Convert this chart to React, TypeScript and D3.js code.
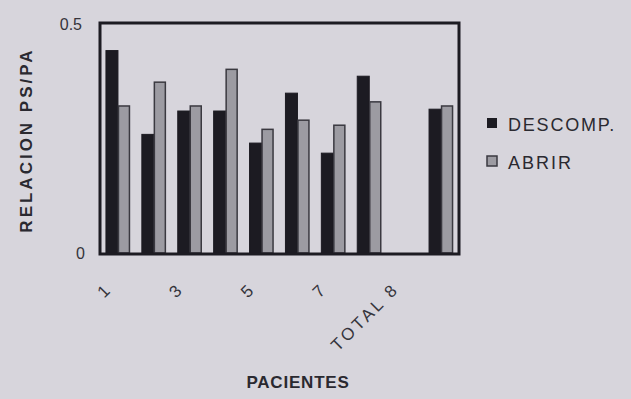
import React from "react";
import * as d3 from "d3";

const categories = ["1", "2", "3", "4", "5", "6", "7", "8", "9", "TOTAL"];
const descomp = [0.442, 0.259, 0.31, 0.31, 0.24, 0.349, 0.218, 0.386, null, 0.314];
const abrir = [0.321, 0.373, 0.321, 0.401, 0.27, 0.29, 0.279, 0.33, null, 0.321];
const tickCategories = ["1", "3", "5", "7", "9"];
const tickLabels = ["1", "3", "5", "7", "TOTAL 8"];
const yTicks = [0, 0.5];
const yTickLabels = ["0", "0.5"];
const seriesNames = ["DESCOMP.", "ABRIR"];

const W = 631;
const H = 399;
const frame = { left: 100, top: 23, right: 459, bottom: 254 };
const font = "'Liberation Sans', Arial, sans-serif";
const bg = "#d7d5dc";
const ink = "#1c1b22";
const textInk = "#35343b";
const grayFill = "#9c9ba2";

export default function App() {
  const x = d3
    .scaleBand<string>()
    .domain(categories)
    .range([frame.left, frame.right])
    .paddingInner(0)
    .paddingOuter(0);
  const y = d3.scaleLinear().domain([0, 0.5]).range([frame.bottom - 1, frame.top + 1]);
  const barW = 12;

  const bars: React.ReactNode[] = [];
  categories.forEach((c, i) => {
    const cx = (x(c) as number) + x.bandwidth() / 2;
    const d = descomp[i];
    const a = abrir[i];
    if (d != null) {
      bars.push(
        <rect key={"d" + i} x={cx - barW} y={y(d)} width={barW} height={y(0) - y(d)} fill={ink} stroke={ink} strokeWidth={1} />
      );
    }
    if (a != null) {
      bars.push(
        <rect key={"a" + i} x={cx + 0.5} y={y(a)} width={barW - 1} height={y(0) - y(a)} fill={grayFill} stroke="#3a3940" strokeWidth={1.5} />
      );
    }
  });

  return (
    <svg
      width={W}
      height={H}
      style={{ position: "absolute", left: 0, top: 0, display: "block", background: bg }}
    >
      <rect x={0} y={0} width={W} height={H} fill={bg} />
      {bars}
      <rect
        x={frame.left}
        y={frame.top}
        width={frame.right - frame.left}
        height={frame.bottom - frame.top}
        fill="none"
        stroke={ink}
        strokeWidth={3}
      />
      {yTicks.map((t, i) => (
        <text
          key={"yt" + i}
          x={frame.left - (t === 0 ? 15 : 18)}
          y={y(t) + 6}
          textAnchor="end"
          fontFamily={font}
          fontSize={16}
          fill={textInk}
        >
          {yTickLabels[i]}
        </text>
      ))}
      {tickCategories.map((c, i) => {
        const cx = (x(c) as number) + x.bandwidth() / 2 - 5;
        const ty = frame.bottom + 36;
        return (
          <text
            key={"xt" + i}
            transform={`translate(${cx},${ty}) rotate(-45)`}
            textAnchor="end"
            fontFamily={font}
            fontSize={17}
            letterSpacing={3}
            fill={textInk}
          >
            {tickLabels[i]}
          </text>
        );
      })}
      <text
        transform={`translate(32,140) rotate(-90)`}
        textAnchor="middle"
        fontFamily={font}
        fontSize={17}
        fontWeight="bold"
        letterSpacing={3}
        fill="#2a2930"
      >
        RELACION PS/PA
      </text>
      <text
        x={298}
        y={388}
        textAnchor="middle"
        fontFamily={font}
        fontSize={17}
        fontWeight="bold"
        letterSpacing={0.8}
        fill="#2a2930"
      >
        PACIENTES
      </text>
      <g fontFamily={font} fontSize={18} fill="#2a2930">
        <rect x={487} y={118} width={10} height={10} fill={ink} />
        <text x={508} y={131} letterSpacing={1.8}>{seriesNames[0]}</text>
        <rect x={487} y={156} width={10} height={10} fill={grayFill} stroke="#3a3940" strokeWidth={1.5} />
        <text x={508} y={169} letterSpacing={2}>{seriesNames[1]}</text>
      </g>
    </svg>
  );
}
